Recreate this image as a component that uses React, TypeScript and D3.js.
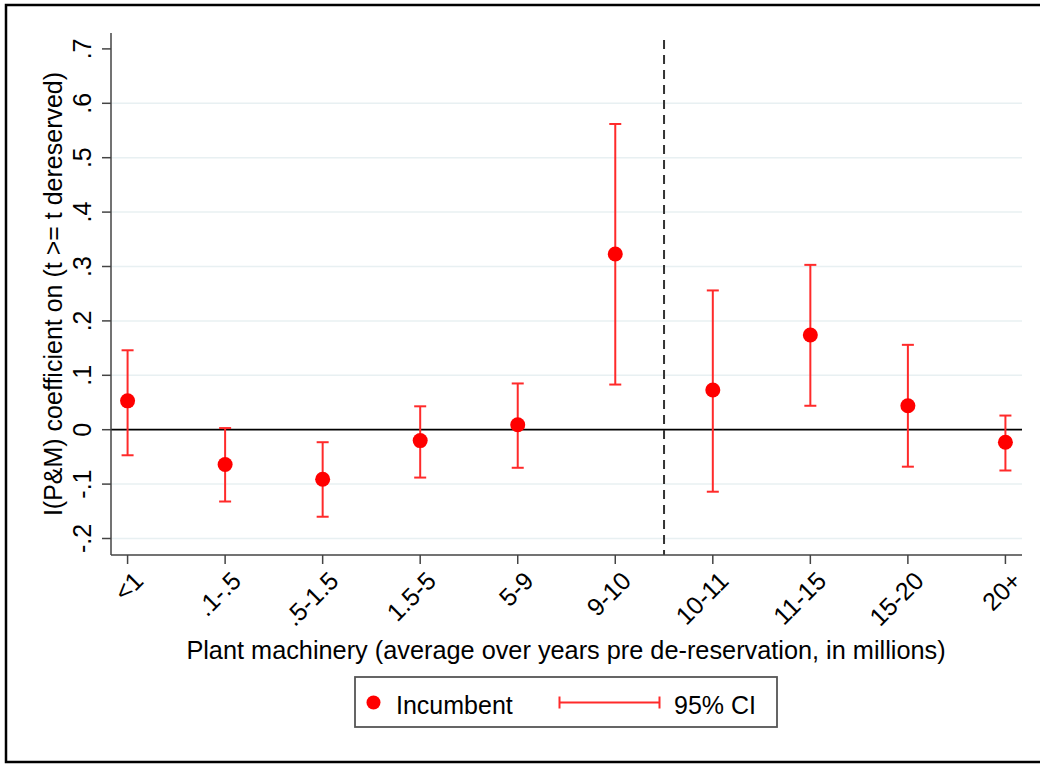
import React from "react";
import * as d3 from "d3";

const categories = ["<1", ".1-.5", ".5-1.5", "1.5-5", "5-9", "9-10", "10-11", "11-15", "15-20", "20+"];
const estimates = [0.053, -0.064, -0.091, -0.020, 0.009, 0.323, 0.073, 0.174, 0.044, -0.023];
const ciLower = [-0.047, -0.132, -0.160, -0.088, -0.070, 0.083, -0.114, 0.044, -0.068, -0.075];
const ciUpper = [0.146, 0.003, -0.023, 0.043, 0.085, 0.562, 0.256, 0.303, 0.156, 0.026];
const yTicks = [-0.2, -0.1, 0, 0.1, 0.2, 0.3, 0.4, 0.5, 0.6, 0.7];
const cutoffPosition = 5.5;

const W = 1040;
const H = 764;
const FONT = "'Liberation Sans', Arial, Helvetica, sans-serif";

const fmt = (v: number) => {
  if (Math.abs(v) < 1e-9) return "0";
  const s = d3.format(".1f")(v).replace("\u2212", "-");
  return s.replace(/^(-?)0\./, "$1.");
};

export default function App() {
  const left = 111;
  const right = 1022;
  const top = 33;
  const bottom = 555;
  const x = d3.scaleLinear().domain([-0.17, 9.17]).range([left, right]);
  const y = d3.scaleLinear().domain([0, 0.1]).range([429.7, 375.3]);
  const red = "#ff0000";
  const bar = "#ff2a2a";
  const cap = 6;

  return (
    <svg width={W} height={H} style={{ position: "absolute", left: 0, top: 0, background: "#fff" }} fontFamily={FONT}>
      <rect x={0} y={0} width={W} height={H} fill="#fff" />
      <rect x={6} y={5} width={1040} height={757} fill="#fff" stroke="#000" strokeWidth={2.5} />

      {/* gridlines */}
      {yTicks.filter((t) => Math.abs(t) > 1e-9 && t < 0.65).map((t) => (
        <line key={"g" + t} x1={left} x2={right} y1={y(t)} y2={y(t)} stroke="#e8f0f2" strokeWidth={1.5} />
      ))}

      {/* zero line */}
      <line x1={left} x2={right} y1={y(0)} y2={y(0)} stroke="#000" strokeWidth={1.8} />

      {/* dashed vertical */}
      <line x1={x(cutoffPosition)} x2={x(cutoffPosition)} y1={40} y2={bottom} stroke="#333" strokeWidth={2} strokeDasharray="9,6" />

      {/* axes */}
      <line x1={left} x2={left} y1={top} y2={bottom} stroke="#444" strokeWidth={1.5} />
      <line x1={left} x2={right} y1={bottom} y2={bottom} stroke="#444" strokeWidth={1.5} />

      {yTicks.map((t) => (
        <g key={"yt" + t}>
          <line x1={left - 9} x2={left} y1={y(t)} y2={y(t)} stroke="#444" strokeWidth={1.5} />
          <text transform={`translate(91,${y(t)}) rotate(-90)`} textAnchor="middle" fontSize={25} fill="#000">
            {fmt(t)}
          </text>
        </g>
      ))}

      {categories.map((c, i) => (
        <g key={"xt" + i}>
          <line x1={x(i)} x2={x(i)} y1={bottom} y2={bottom + 9} stroke="#444" strokeWidth={1.5} />
          <text transform={`translate(${x(i) + 5},${bottom + 15}) rotate(-45)`} textAnchor="end" fontSize={25} fill="#000" dy="0.7em">
            {c}
          </text>
        </g>
      ))}

      {/* error bars */}
      {categories.map((c, i) => (
        <g key={"eb" + i} stroke={bar} strokeWidth={2}>
          <line x1={x(i)} x2={x(i)} y1={y(ciLower[i])} y2={y(ciUpper[i])} />
          <line x1={x(i) - cap} x2={x(i) + cap} y1={y(ciLower[i])} y2={y(ciLower[i])} />
          <line x1={x(i) - cap} x2={x(i) + cap} y1={y(ciUpper[i])} y2={y(ciUpper[i])} />
        </g>
      ))}

      {/* points */}
      {categories.map((c, i) => (
        <circle key={"pt" + i} cx={x(i)} cy={y(estimates[i])} r={7.5} fill={red} />
      ))}

      {/* axis titles */}
      <text transform={`translate(62,294) rotate(-90)`} textAnchor="middle" fontSize={25} fill="#000">
        I(P&amp;M) coefficient on (t &gt;= t dereserved)
      </text>
      <text x={566} y={659} textAnchor="middle" fontSize={25.3} fill="#000">
        Plant machinery (average over years pre de-reservation, in millions)
      </text>

      {/* legend */}
      <rect x={355} y={677} width={422} height={50} fill="#fff" stroke="#555" strokeWidth={1.8} />
      <circle cx={373.5} cy={702.5} r={7} fill={red} />
      <text x={396} y={714} fontSize={25} fill="#000">Incumbent</text>
      <g stroke={bar} strokeWidth={2}>
        <line x1={559.5} x2={659.5} y1={702.5} y2={702.5} />
        <line x1={559.5} x2={559.5} y1={696.5} y2={708.5} />
        <line x1={659.5} x2={659.5} y1={696.5} y2={708.5} />
      </g>
      <text x={674} y={714} fontSize={25} fill="#000">95% CI</text>
    </svg>
  );
}
